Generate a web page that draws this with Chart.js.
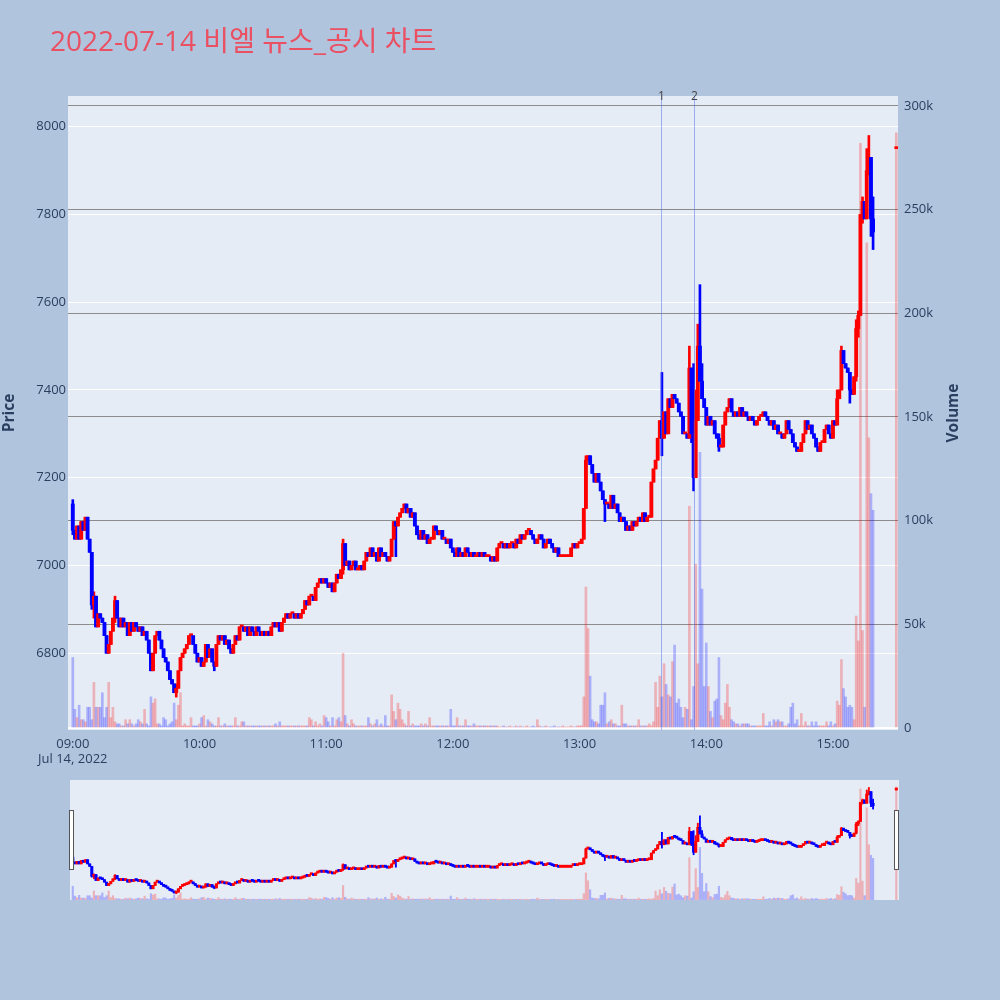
<!DOCTYPE html>
<html>
<head>
<meta charset="utf-8">
<script src="https://cdn.jsdelivr.net/npm/chart.js@4.4.1/dist/chart.umd.min.js"></script>
<style>
	html, body { margin: 0; padding: 0; background: #b0c4de; }
	#wrap { position: relative; width: 1000px; height: 1000px; }
	canvas { position: absolute; left: 0; }
	#main { top: 0; }
	#slider { top: 770px; }
</style>
</head>
<body>
<div id="wrap">
	<canvas id="main" width="1000" height="770"></canvas>
	<canvas id="slider" width="1000" height="230"></canvas>
</div>
<script>
const chartTitle = '2022-07-14 비엘 뉴스_공시 차트';
const firstOpen = 7140;

// 1-minute closes, index 0 = 09:00 ... 379 = 15:19
const closes = [
	7080, 7060, 7090, 7060, 7100, 7080, 7110, 7060, 7030, 6910, 6930, 6860, 6890, 6880, 6870, 6840, 6800, 6820, 6850, 6880,
	6920, 6880, 6860, 6880, 6860, 6870, 6840, 6870, 6850, 6870, 6860, 6850, 6860, 6840, 6850, 6830, 6800, 6760, 6800, 6840,
	6850, 6830, 6810, 6790, 6780, 6760, 6740, 6730, 6710, 6720, 6760, 6790, 6800, 6810, 6820, 6840, 6840, 6820, 6800, 6780,
	6790, 6770, 6780, 6820, 6790, 6810, 6780, 6770, 6820, 6840, 6830, 6840, 6820, 6830, 6810, 6800, 6820, 6840, 6830, 6860,
	6860, 6850, 6860, 6840, 6860, 6850, 6840, 6860, 6850, 6840, 6850, 6840, 6850, 6840, 6860, 6870, 6860, 6870, 6850, 6870,
	6880, 6890, 6880, 6890, 6890, 6880, 6890, 6880, 6890, 6900, 6920, 6910, 6930, 6930, 6920, 6950, 6960, 6970, 6960, 6970,
	6960, 6950, 6960, 6940, 6960, 6980, 6970, 6990, 7050, 7000, 7010, 6990, 7000, 7010, 6990, 6990, 7000, 6990, 7010, 7030,
	7020, 7040, 7020, 7030, 7010, 7040, 7020, 7030, 7020, 7010, 7020, 7060, 7100, 7090, 7110, 7120, 7130, 7140, 7120, 7130,
	7110, 7120, 7090, 7070, 7060, 7080, 7060, 7070, 7050, 7060, 7060, 7090, 7080, 7070, 7080, 7060, 7060, 7050, 7060, 7040,
	7030, 7020, 7040, 7020, 7030, 7020, 7040, 7030, 7020, 7030, 7020, 7020, 7030, 7020, 7030, 7020, 7020, 7020, 7010, 7020,
	7010, 7040, 7050, 7050, 7040, 7050, 7040, 7050, 7050, 7040, 7060, 7050, 7070, 7060, 7070, 7080, 7080, 7070, 7060, 7050,
	7060, 7070, 7060, 7040, 7050, 7060, 7050, 7040, 7030, 7040, 7020, 7020, 7020, 7020, 7020, 7020, 7040, 7050, 7040, 7050,
	7050, 7060, 7130, 7240, 7250, 7230, 7210, 7190, 7210, 7190, 7170, 7150, 7140, 7140, 7130, 7160, 7130, 7140, 7120, 7100,
	7110, 7100, 7080, 7090, 7080, 7100, 7090, 7100, 7110, 7100, 7120, 7100, 7110, 7110, 7190, 7220, 7240, 7290, 7330, 7290,
	7350, 7300, 7380, 7360, 7390, 7380, 7370, 7350, 7340, 7300, 7300, 7290, 7450, 7300, 7200, 7330, 7500, 7420, 7380, 7360,
	7320, 7340, 7320, 7330, 7300, 7290, 7270, 7270, 7320, 7350, 7360, 7380, 7350, 7340, 7350, 7340, 7360, 7340, 7350, 7340,
	7330, 7340, 7330, 7320, 7330, 7340, 7340, 7350, 7340, 7330, 7320, 7330, 7310, 7320, 7300, 7300, 7290, 7300, 7330, 7310,
	7300, 7280, 7270, 7260, 7260, 7280, 7300, 7330, 7310, 7320, 7300, 7290, 7270, 7260, 7280, 7280, 7310, 7320, 7300, 7290,
	7330, 7320, 7380, 7400, 7490, 7460, 7450, 7440, 7400, 7390, 7430, 7540, 7570, 7800, 7830, 7790, 7900, 7930, 7790, 7760
];

// wicks that reach past the body: [minute index, high, low]
const wicks = [
	[0, 7150, 7070], [9, 7030, 6900], [10, 6940, 6880], [16, 6840, 6800], [20, 6930, 6870],
	[37, 6800, 6760], [49, 6730, 6700], [67, 6780, 6760], [128, 7060, 6980], [153, 7100, 7020],
	[243, 7250, 7130], [252, 7150, 7100], [279, 7440, 7250], [292, 7500, 7290], [293, 7450, 7280],
	[294, 7460, 7170], [295, 7400, 7200], [296, 7550, 7330], [297, 7640, 7420], [298, 7460, 7380],
	[306, 7300, 7260], [362, 7400, 7320], [364, 7500, 7400], [368, 7440, 7370], [371, 7560, 7420],
	[372, 7580, 7520], [374, 7840, 7780], [376, 7950, 7790], [377, 7980, 7890], [378, 7930, 7750],
	[379, 7840, 7720]
];

// volume per minute, thousand shares
const volumeK = [
	34, 9, 5, 11, 4, 4, 3, 10, 10, 4, 22, 10, 10, 10, 17, 5, 10, 22, 5, 10,
	3, 2, 2, 1, 1, 4, 2, 4, 2, 1, 2, 4, 3, 2, 9, 2, 1, 15, 12, 14,
	2, 2, 1, 5, 4, 1, 2, 3, 12, 4, 11, 17, 1, 2, 1, 1, 5, 1, 1, 1,
	2, 5, 6, 1, 4, 3, 2, 1, 1, 5, 1, 1, 2, 1, 1, 1, 1, 5, 1, 1,
	3, 3, 1, 1, 1, 1, 1, 1, 1, 1, 1, 1, 1, 1, 1, 1, 2, 1, 3, 1,
	1, 1, 1, 1, 1, 1, 1, 1, 1, 1, 1, 1, 5, 4, 1, 3, 1, 2, 1, 6,
	5, 3, 1, 5, 1, 4, 5, 3, 36, 6, 2, 1, 4, 2, 1, 1, 1, 1, 1, 1,
	5, 2, 1, 2, 4, 1, 2, 1, 6, 1, 1, 16, 8, 4, 12, 9, 4, 2, 1, 8,
	1, 2, 1, 1, 1, 2, 1, 2, 1, 5, 1, 1, 1, 1, 1, 1, 1, 1, 1, 9,
	1, 1, 5, 1, 1, 1, 4, 1, 1, 1, 2, 1, 1, 1, 1, 1, 1, 1, 1, 1,
	1, 1, 0.5, 0.5, 1, 0.5, 0.5, 1, 0.5, 0.5, 1, 0.5, 1, 0.5, 0.5, 1, 0.5, 0.5, 1, 0.5,
	4, 1, 0.5, 0.5, 1, 0.5, 0.5, 0.5, 1, 0.5, 0.5, 0.5, 1, 0.5, 0.5, 0.5, 1, 0.5, 0.5, 1,
	1, 1, 15, 68, 48, 25, 4, 3, 3, 2, 11, 11, 17, 2, 3, 4, 2, 2, 1, 1,
	11, 2, 2, 1, 1, 1, 1, 1, 4, 1, 1, 1, 1, 2, 1, 3, 22, 10, 25, 15,
	31, 21, 16, 15, 32, 40, 12, 14, 10, 5, 10, 9, 107, 4, 20, 79, 31, 133, 67, 20,
	41, 20, 8, 5, 13, 14, 34, 6, 4, 12, 21, 10, 4, 3, 2, 2, 1, 2, 2, 2,
	2, 1, 1, 1, 1, 1, 1, 7, 1, 1, 3, 1, 4, 3, 4, 3, 3, 1, 1, 2,
	10, 12, 2, 4, 1, 7, 1, 3, 1, 1, 3, 1, 3, 1, 1, 1, 1, 3, 1, 3,
	1, 2, 13, 11, 33, 19, 15, 10, 11, 10, 4, 54, 42, 282, 47, 10, 234, 140, 113, 105
];

// closing auction print at 15:30
const auction = { minute: 390, open: 7950, high: 7950, low: 7950, close: 7950, volumeK: 287 };

const timeTicks = [0, 60, 120, 180, 240, 300, 360];
const timeLabels = ['09:00', '10:00', '11:00', '12:00', '13:00', '14:00', '15:00'];
const dateLabel = 'Jul 14, 2022';
const priceTicks = [6800, 7000, 7200, 7400, 7600, 7800, 8000];
const volumeTicks = [0, 50000, 100000, 150000, 200000, 250000, 300000];
const volumeTickLabels = ['0', '50k', '100k', '150k', '200k', '250k', '300k'];
const newsMinutes = [278.5, 294.2];
const newsLabels = ['1', '2'];

const xMin = -2.27, xMax = 390.8;
const priceMin = 6625, priceMax = 8070;
const volMin = -960, volMax = 304800;

const FONT = '"Open Sans", "Noto Sans CJK KR", sans-serif';
const TEXT = '#2a3f5f';
Chart.defaults.font.family = FONT;
Chart.defaults.font.size = 13;
Chart.defaults.color = TEXT;

const candles = closes.map((c, i) => {
	const o = i === 0 ? firstOpen : closes[i - 1];
	return { x: i, o: o, c: c, h: Math.max(o, c), l: Math.min(o, c), v: volumeK[i] * 1000 };
});
wicks.forEach(([i, h, l]) => {
	candles[i].h = Math.max(candles[i].h, h);
	candles[i].l = Math.min(candles[i].l, l);
});
candles.push({ x: auction.minute, o: auction.open, c: auction.close, h: auction.high, l: auction.low, v: auction.volumeK * 1000 });

const isUp = k => k.c >= k.o;
const candleColors = candles.map(k => isUp(k) ? '#ff0000' : '#0000ff');
const volumeColors = candles.map(k => isUp(k) ? 'rgba(255,0,0,0.25)' : 'rgba(0,0,255,0.25)');

function makeDatasets(bodyW, wickW, volW) {
	return [
		{ label: 'Volume', yAxisID: 'y2', order: 0, grouped: false, barThickness: volW,
			data: candles.map(k => ({ x: k.x, y: k.v })), backgroundColor: volumeColors },
		{ label: 'wick', yAxisID: 'y', order: 2, grouped: false, barThickness: wickW,
			data: candles.map(k => ({ x: k.x, y: [k.l, k.h] })), backgroundColor: candleColors },
		{ label: 'body', yAxisID: 'y', order: 1, grouped: false, barThickness: bodyW, minBarLength: 2,
			data: candles.map(k => ({ x: k.x, y: [k.o, k.c] })), backgroundColor: candleColors }
	];
}

const mainDecor = {
	id: 'mainDecor',
	beforeDraw(chart) {
		const { ctx, chartArea: a } = chart;
		ctx.save();
		ctx.fillStyle = '#e5ecf6';
		ctx.fillRect(a.left, a.top, a.right - a.left, a.bottom - a.top);
		ctx.restore();
	},
	afterDatasetsDraw(chart) {
		const { ctx, chartArea: a, scales } = chart;
		ctx.save();
		ctx.strokeStyle = 'rgba(80,110,230,0.5)';
		ctx.lineWidth = 1;
		ctx.fillStyle = '#444';
		ctx.font = '12px ' + FONT;
		ctx.textAlign = 'center';
		ctx.textBaseline = 'middle';
		newsMinutes.forEach((m, i) => {
			const x = Math.round(scales.x.getPixelForValue(m)) + 0.5;
			ctx.beginPath();
			ctx.moveTo(x, a.top);
			ctx.lineTo(x, a.bottom);
			ctx.stroke();
			ctx.fillText(newsLabels[i], x, a.top + 1);
		});
		ctx.restore();
	},
	afterDraw(chart) {
		const ctx = chart.ctx;
		ctx.save();
		ctx.fillStyle = '#ea4f62';
		ctx.font = '28px ' + FONT;
		ctx.textBaseline = 'alphabetic';
		ctx.fillText(chartTitle, 50, 51);

		ctx.fillStyle = TEXT;
		ctx.font = 'bold 15.5px ' + FONT;
		ctx.textAlign = 'center';
		ctx.textBaseline = 'middle';
		[['Price', 10], ['Volume', 954]].forEach(([t, x]) => {
			ctx.save();
			ctx.translate(x, 413);
			ctx.rotate(-Math.PI / 2);
			ctx.fillText(t, 0, 0);
			ctx.restore();
		});
		ctx.restore();
	}
};

new Chart(document.getElementById('main'), {
	type: 'bar',
	data: { datasets: makeDatasets(3.2, 2, 2) },
	options: {
		responsive: false,
		animation: false,
		devicePixelRatio: 1,
		events: [],
		layout: { padding: { top: 96, left: 0, right: 0, bottom: 0 } },
		plugins: { legend: { display: false }, tooltip: { enabled: false } },
		scales: {
			x: {
				type: 'linear', min: xMin, max: xMax, offset: false,
				grid: { display: false, drawTicks: false },
				border: { display: false },
				afterBuildTicks: s => { s.ticks = timeTicks.map(v => ({ value: v })); },
				afterFit: s => { s.height = 40; },
				ticks: {
					autoSkip: false, maxRotation: 0, padding: 6,
					callback: v => {
						const i = timeTicks.indexOf(v);
						return i === 0 ? [timeLabels[0], dateLabel] : timeLabels[i];
					}
				}
			},
			y: {
				position: 'left', min: priceMin, max: priceMax,
				grid: { color: '#ffffff', lineWidth: 1, drawTicks: false },
				border: { display: false },
				afterBuildTicks: s => { s.ticks = priceTicks.map(v => ({ value: v })); },
				afterFit: s => { s.width = 68; },
				ticks: { padding: 2, callback: v => String(v) }
			},
			y2: {
				position: 'right', min: volMin, max: volMax,
				grid: {
					color: c => c.tick && c.tick.value === 0 ? '#ffffff' : '#8c8c8c',
					lineWidth: c => c.tick && c.tick.value === 0 ? 2 : 1,
					drawTicks: false
				},
				border: { display: false },
				afterBuildTicks: s => { s.ticks = volumeTicks.map(v => ({ value: v })); },
				afterFit: s => { s.width = 102; },
				ticks: { padding: 6, callback: v => volumeTickLabels[volumeTicks.indexOf(v)] }
			}
		}
	},
	plugins: [mainDecor]
});

const sliderDecor = {
	id: 'sliderDecor',
	beforeDraw(chart) {
		const ctx = chart.ctx;
		ctx.save();
		ctx.fillStyle = '#e5ecf6';
		ctx.fillRect(70, 10, 829, 120);
		ctx.restore();
	},
	afterDraw(chart) {
		const ctx = chart.ctx;
		ctx.save();
		ctx.fillStyle = '#ffffff';
		ctx.strokeStyle = '#555';
		ctx.lineWidth = 1;
		[69.5, 894.5].forEach(x => {
			ctx.fillRect(x, 40.5, 4, 59);
			ctx.strokeRect(x, 40.5, 4, 59);
		});
		ctx.restore();
	}
};

new Chart(document.getElementById('slider'), {
	type: 'bar',
	data: { datasets: makeDatasets(2.4, 1.2, 1.5) },
	options: {
		responsive: false,
		animation: false,
		devicePixelRatio: 1,
		events: [],
		layout: { padding: { top: 10, bottom: 100, left: 68, right: 102 } },
		plugins: { legend: { display: false }, tooltip: { enabled: false } },
		scales: {
			x: { type: 'linear', display: false, min: xMin, max: xMax, offset: false },
			y: { display: false, min: priceMin, max: priceMax },
			y2: { display: false, position: 'right', min: volMin, max: volMax }
		}
	},
	plugins: [sliderDecor]
});
</script>
</body>
</html>
